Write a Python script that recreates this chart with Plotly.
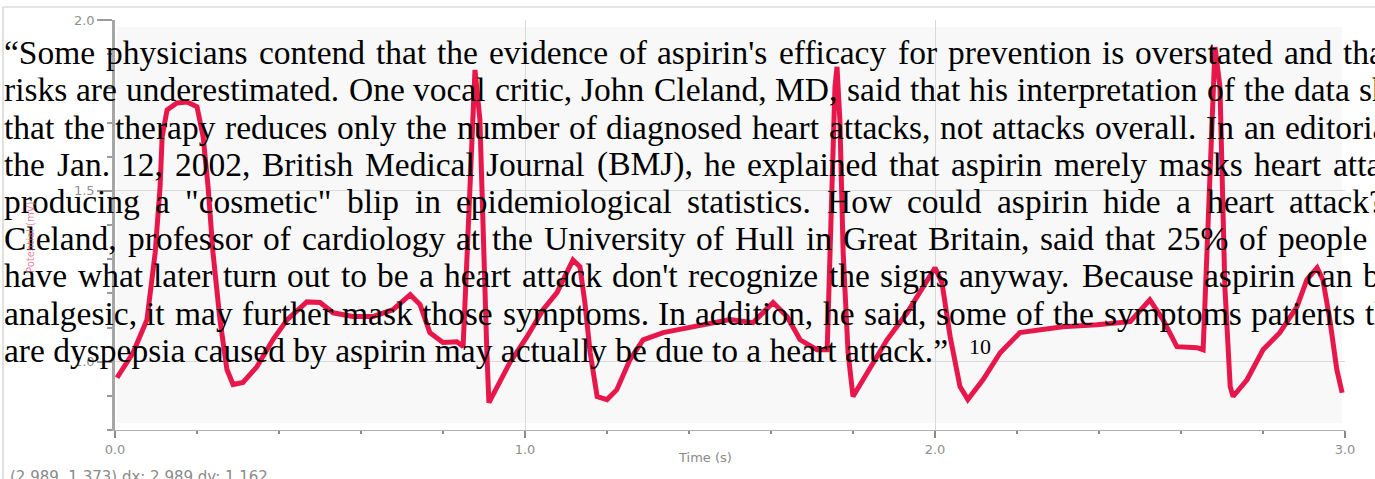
import plotly.graph_objects as go

# ---------------- data ----------------
time_s = [0.005, 0.044, 0.078, 0.098, 0.110, 0.115, 0.127, 0.151, 0.176, 0.200,
          0.215, 0.227, 0.239, 0.256, 0.273, 0.288, 0.312, 0.346, 0.385, 0.420,
          0.468, 0.500, 0.532, 0.580, 0.629, 0.678, 0.720, 0.744, 0.768, 0.800,
          0.834, 0.849, 0.859, 0.871, 0.878, 0.890, 0.898, 0.907, 0.912, 0.932,
          0.963, 1.005, 1.044, 1.078, 1.102, 1.117, 1.134, 1.146, 1.159, 1.176,
          1.200, 1.224, 1.256, 1.288, 1.337, 1.410, 1.500, 1.556, 1.605, 1.639,
          1.671, 1.712, 1.737, 1.744, 1.756, 1.761, 1.768, 1.776, 1.788, 1.800,
          1.834, 1.883, 1.932, 1.980, 2.000, 2.017, 2.037, 2.061, 2.080, 2.117,
          2.159, 2.207, 2.256, 2.312, 2.395, 2.476, 2.524, 2.556, 2.590, 2.639,
          2.654, 2.663, 2.676, 2.683, 2.695, 2.700, 2.707, 2.720, 2.727, 2.761,
          2.800, 2.841, 2.883, 2.907, 2.932, 2.946, 2.963, 2.980, 2.993]
potential_mv = [0.953, 1.026, 1.123, 1.319, 1.512, 1.658, 1.737, 1.757, 1.760, 1.746,
                1.658, 1.512, 1.319, 1.123, 0.977, 0.933, 0.939, 0.985, 1.064, 1.123,
                1.175, 1.173, 1.143, 1.132, 1.132, 1.152, 1.196, 1.167, 1.085, 1.056,
                1.058, 1.044, 1.319, 1.708, 1.854, 1.708, 1.319, 1.026, 0.880, 0.927,
                0.997, 1.073, 1.152, 1.202, 1.260, 1.298, 1.278, 1.173, 1.026, 0.898,
                0.889, 0.918, 1.006, 1.064, 1.085, 1.102, 1.123, 1.114, 1.173, 1.132,
                1.064, 1.035, 1.035, 1.319, 1.804, 1.863, 1.708, 1.319, 1.026, 0.898,
                0.968, 1.064, 1.143, 1.240, 1.275, 1.231, 1.073, 0.927, 0.889, 0.947,
                1.026, 1.085, 1.094, 1.102, 1.108, 1.117, 1.181, 1.123, 1.044, 1.041,
                1.035, 1.319, 1.708, 1.921, 1.804, 1.512, 1.219, 0.927, 0.898, 0.947,
                1.035, 1.085, 1.161, 1.240, 1.275, 1.240, 1.123, 0.977, 0.909]

x_tick_values = [0.0, 1.0, 2.0, 3.0]
x_tick_labels = ["0.0", "1.0", "2.0", "3.0"]
y_tick_values = [1.0, 1.5, 2.0]
y_tick_labels = ["1.0", "1.5", "2.0"]
x_axis_title = "Time (s)"
y_axis_title = "Potential (mV)"
cursor_readout = "(2.989, 1.373) dx: 2.989 dy: 1.162"

quote_lines = [
    "“Some physicians contend that the evidence of aspirin's efficacy for prevention is overstated and that",
    "risks are underestimated. One vocal critic, John Cleland, MD, said that his interpretation of the data shows",
    "that the therapy reduces only the number of diagnosed heart attacks, not attacks overall. In an editorial",
    "the Jan. 12, 2002, British Medical Journal (BMJ), he explained that aspirin merely masks heart attacks,",
    'producing a "cosmetic" blip in epidemiological statistics. How could aspirin hide a heart attack?',
    "Cleland, professor of cardiology at the University of Hull in Great Britain, said that 25% of people who",
    "have what later turn out to be a heart attack don't recognize the signs anyway. Because aspirin can be",
    "analgesic, it may further mask those symptoms. In addition, he said, some of the symptoms patients think",
    "are dyspepsia caused by aspirin may actually be due to a heart attack.”",
]
footnote_mark = "10"

# ---------------- layout constants ----------------
W, H = 1375, 479
ML, MR, MT, MB = 115, 30, 20, 49
PW, PH = W - ML - MR, H - MT - MB


def px_x(px):
    return (px - ML) / PW


def px_y(py):
    return (H - MB - py) / PH


# justified text: (index of anchor word, x-pixel where that word starts)
line_anchor = [(-1, 1342), (-1, 1358), (-1, 1284), (-1, 1332), (-1, 1288),
               (-2, 1277), (-2, 1305), (-2, 1250), None]
TEXT_X0 = 3
FS = 33.5
BASE0 = 64.0
LEAD = 37.2
TEXT_FONT = dict(family="Liberation Serif", size=FS, color="#000000")

# Times/Liberation Serif advance widths (per 1000 em) used to justify lines
_w = {}
_w.update(dict(zip("abcdefghijklmnopqrstuvwxyz",
                   [444, 500, 444, 500, 444, 333, 500, 500, 278, 278, 500, 278, 778,
                    500, 500, 500, 500, 333, 389, 278, 500, 500, 722, 500, 500, 444])))
_w.update(dict(zip("ABCDEFGHIJKLMNOPQRSTUVWXYZ",
                   [722, 667, 667, 722, 611, 556, 722, 722, 333, 389, 722, 611, 889,
                    722, 722, 556, 722, 667, 556, 611, 722, 722, 944, 722, 722, 611])))
_w.update({c: 500 for c in "0123456789"})
_w.update({",": 250, ".": 250, "(": 333, ")": 333, "%": 833, "?": 444, "'": 180,
           '"': 408, "“": 444, "”": 444, "-": 333, ":": 278, ";": 278, " ": 250})


def word_width(w):
    return sum(_w.get(c, 500) for c in w) * FS / 1000.0


annotations = []
for i, line in enumerate(quote_lines):
    cy = BASE0 + i * LEAD - 0.3375 * FS
    anchor = line_anchor[i]
    if anchor is None:
        annotations.append(dict(x=px_x(TEXT_X0), y=px_y(cy), xref="paper", yref="paper",
                                text=line, showarrow=False, xanchor="left", yanchor="middle",
                                borderpad=0, font=TEXT_FONT))
        continue
    words = line.split(" ")
    k = anchor[0] % len(words)
    gap = (anchor[1] - TEXT_X0 - sum(word_width(w) for w in words[:k])) / k
    x = TEXT_X0
    for w in words:
        annotations.append(dict(x=px_x(x), y=px_y(cy), xref="paper", yref="paper",
                                text=w, showarrow=False, xanchor="left", yanchor="middle",
                                borderpad=0, font=TEXT_FONT))
        x += word_width(w) + gap

# footnote mark after the closing quote
annotations.append(dict(x=px_x(968), y=px_y(346), xref="paper", yref="paper",
                        text=footnote_mark, showarrow=False, xanchor="left", yanchor="middle",
                        borderpad=0, font=dict(family="Liberation Serif", size=22, color="#000000")))

# axis titles and readout
annotations.append(dict(x=px_x(705), y=px_y(457), xref="paper", yref="paper",
                        text=x_axis_title, showarrow=False, xanchor="center", yanchor="middle",
                        font=dict(family="DejaVu Sans", size=13, color="#8a8a8a")))
annotations.append(dict(x=px_x(30), y=px_y(238), xref="paper", yref="paper",
                        text=y_axis_title, showarrow=False, textangle=-90,
                        xanchor="center", yanchor="middle",
                        font=dict(family="DejaVu Sans", size=10, color="rgba(226,90,120,0.75)")))
annotations.append(dict(x=px_x(9), y=px_y(477), xref="paper", yref="paper",
                        text=cursor_readout, showarrow=False, xanchor="left", yanchor="middle",
                        borderpad=0,
                        font=dict(family="DejaVu Sans", size=15, color="#8a8a8a")))

shapes = [
    dict(type="rect", xref="paper", yref="paper", x0=px_x(117), x1=px_x(1342),
         y0=px_y(423), y1=px_y(27), fillcolor="#f8f8f8", line=dict(width=0), layer="below"),
    dict(type="line", xref="paper", yref="paper", x0=px_x(3), x1=px_x(W),
         y0=px_y(7), y1=px_y(7), line=dict(color="#dcdcdc", width=1.5)),
    dict(type="line", xref="paper", yref="paper", x0=px_x(3), x1=px_x(3),
         y0=px_y(7), y1=px_y(H), line=dict(color="#d6d6d6", width=1.5)),
]

fig = go.Figure()
fig.add_trace(go.Scatter(x=time_s, y=potential_mv, mode="lines",
                         line=dict(color="#e8174b", width=5), hoverinfo="skip"))

tick_font = dict(family="DejaVu Sans", size=13, color="#8f8f8f")
fig.update_layout(
    width=W, height=H, margin=dict(l=ML, r=MR, t=MT, b=MB, pad=0),
    paper_bgcolor="white", plot_bgcolor="white", showlegend=False,
    annotations=annotations, shapes=shapes,
    xaxis=dict(range=[0, 3], tickvals=x_tick_values, ticktext=x_tick_labels,
               ticks="outside", ticklen=7, tickwidth=2, tickcolor="#8a8a8a",
               showline=True, linecolor="#b0b0b0", linewidth=1,
               showgrid=True, gridcolor="#d9d9d9", gridwidth=1, zeroline=False,
               tickfont=tick_font,
               minor=dict(dtick=0.2, tick0=0, ticks="outside", ticklen=3, tickwidth=2,
                          tickcolor="#8a8a8a", showgrid=False)),
    yaxis=dict(range=[0.8, 2.0], tickvals=y_tick_values, ticktext=y_tick_labels,
               ticks="outside", ticklen=15, tickwidth=1.5, tickcolor="#9a9a9a",
               showline=True, linecolor="#a6a6a6", linewidth=2.5,
               showgrid=True, gridcolor="#d9d9d9", gridwidth=1, zeroline=False,
               tickfont=tick_font,
               minor=dict(dtick=0.1, tick0=0.8, ticks="outside", ticklen=5, tickwidth=1.5,
                          tickcolor="#9a9a9a", showgrid=False)),
)

fig.write_html("out.html", config={"displayModeBar": False},
               post_script="document.body.style.margin='0';document.body.style.overflow='hidden';")
